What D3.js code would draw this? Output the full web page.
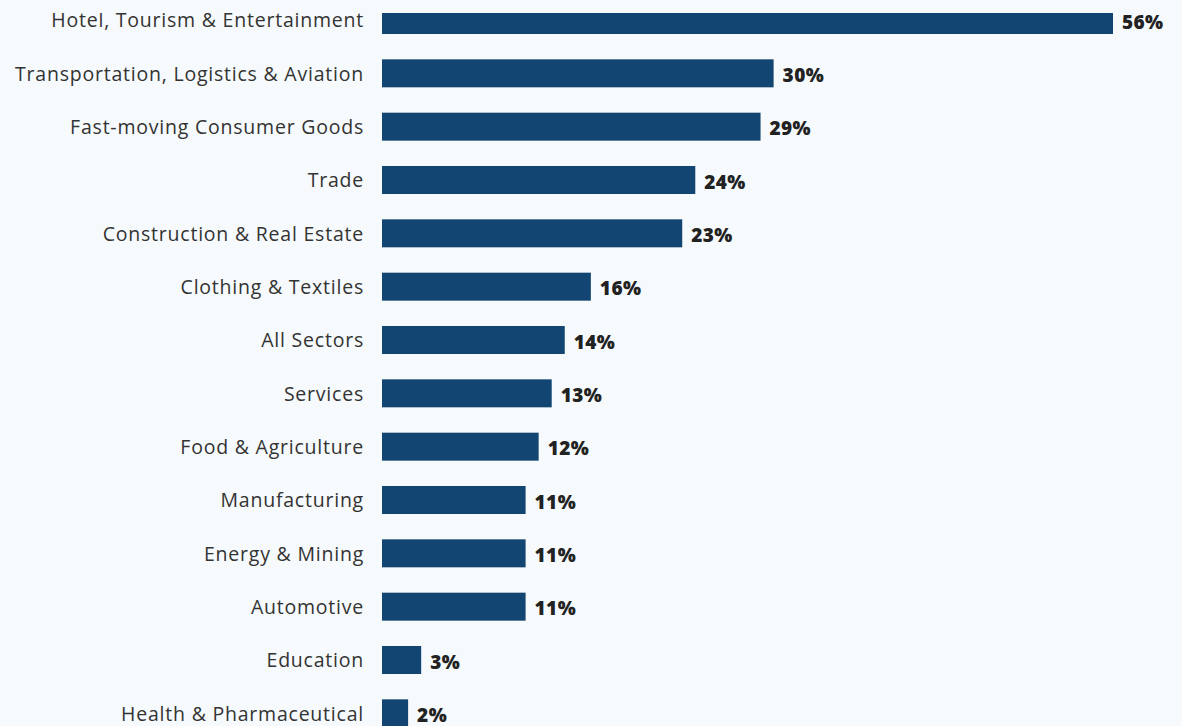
<!DOCTYPE html>
<html>
<head>
<meta charset="utf-8">
<script src="https://cdn.jsdelivr.net/npm/d3@7"></script>
<style>
  html, body { margin: 0; padding: 0; background: #f6fafc; }
  svg { display: block; }
</style>
</head>
<body>
<svg id="chart" width="1182" height="726"></svg>
<script>
// Share of companies by sector (%)
const categories = [
  "Hotel, Tourism & Entertainment",
  "Transportation, Logistics & Aviation",
  "Fast-moving Consumer Goods",
  "Trade",
  "Construction & Real Estate",
  "Clothing & Textiles",
  "All Sectors",
  "Services",
  "Food & Agriculture",
  "Manufacturing",
  "Energy & Mining",
  "Automotive",
  "Education",
  "Health & Pharmaceutical"
];
const values = [56, 30, 29, 24, 23, 16, 14, 13, 12, 11, 11, 11, 3, 2];
const valueLabels = values.map(v => v + "%");

const W = 1182, H = 726;
const svg = d3.select("#chart");

// Visible drawing area starts below a thin header strip
svg.append("defs").append("clipPath").attr("id", "clip")
  .append("rect").attr("x", 0).attr("y", 13).attr("width", W).attr("height", H - 13);

const g = svg.append("g").attr("clip-path", "url(#clip)");

const x = d3.scaleLinear().domain([0, 56]).range([382, 1113]);
const y = d3.scaleBand()
  .domain(categories)
  .range([-6.67, 740])
  .paddingInner(0.475)
  .paddingOuter(0.2375);

g.selectAll("rect.bar")
  .data(categories)
  .join("rect")
  .attr("class", "bar")
  .attr("x", x(0))
  .attr("y", d => y(d))
  .attr("width", (d, i) => x(values[i]) - x(0))
  .attr("height", y.bandwidth())
  .attr("fill", "#124571");

// Category axis labels
const yAxis = d3.axisLeft(y).tickSize(0).tickPadding(18);
const ax = g.append("g").attr("transform", `translate(${x(0)},0)`).call(yAxis);
ax.select(".domain").remove();
ax.selectAll("text")
  .attr("font-family", "'Open Sans', sans-serif")
  .attr("font-size", 19.5)
  .attr("letter-spacing", "0.78px")
  .attr("fill", "#333333")
  .attr("dy", "0.38em");

// Value labels
g.selectAll("text.val")
  .data(categories)
  .join("text")
  .attr("class", "val")
  .attr("x", (d, i) => x(values[i]) + 9)
  .attr("y", d => y(d) + y.bandwidth() / 2)
  .attr("dy", "0.45em")
  .attr("font-family", "'Open Sans', sans-serif")
  .attr("font-weight", 800)
  .attr("font-size", 19)
  .attr("letter-spacing", "0.4px")
  .attr("fill", "#222222")
  .text((d, i) => valueLabels[i]);
</script>
</body>
</html>
